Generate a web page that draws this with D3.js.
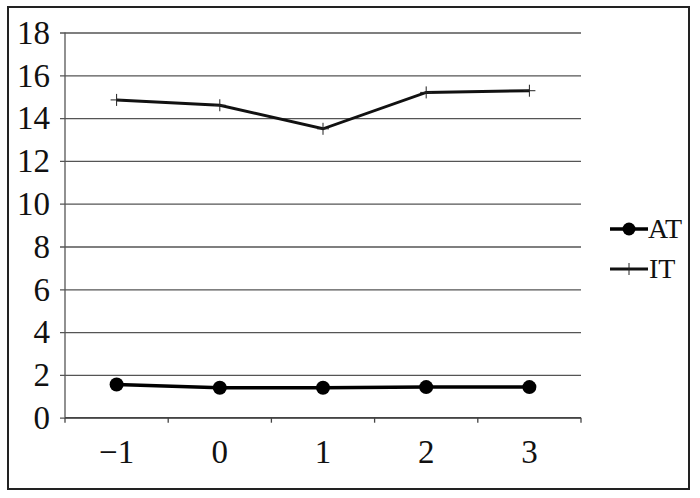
<!DOCTYPE html>
<html>
<head>
<meta charset="utf-8">
<script src="https://cdn.jsdelivr.net/npm/d3@7"></script>
<style>
  body { margin: 0; background: #fff; }
  svg text { font-family: "Liberation Serif", "Times New Roman", Times, serif; fill: #111; }
</style>
</head>
<body>
<script>
(function(){
'use strict';

var categories = ['\u22121', '0', '1', '2', '3'];
var atValues = [1.55, 1.4, 1.4, 1.43, 1.43];
var itValues = [14.85, 14.6, 13.5, 15.2, 15.28];
var yTicks = [0, 2, 4, 6, 8, 10, 12, 14, 16, 18];

var width = 700, height = 498;
var plot = {left: 65, right: 581, top: 32.5, bottom: 417.7};

var svg = d3.select('body').append('svg')
  .attr('width', width)
  .attr('height', height);

// outer frame
svg.append('rect')
  .attr('x', 8).attr('y', 7)
  .attr('width', 681).attr('height', 482)
  .attr('fill', 'none')
  .attr('stroke', '#222')
  .attr('stroke-width', 2);

var x = d3.scaleBand().domain(categories).range([plot.left, plot.right]);
var y = d3.scaleLinear().domain([0, 18]).range([plot.bottom, plot.top]);

// gridlines + y ticks
var yAxis = d3.axisLeft(y).tickValues(yTicks).tickSize(-(plot.right - plot.left)).tickPadding(15);
var gy = svg.append('g').attr('transform', 'translate(' + plot.left + ',0)').call(yAxis);
gy.attr('font-family', null);
gy.select('.domain').remove();
gy.selectAll('.tick line')
  .attr('x1', -5)
  .attr('stroke', '#555')
  .attr('stroke-width', 1.3);
gy.selectAll('.tick text')
  .attr('font-size', 33)
  .attr('fill', '#111')
  .attr('dy', '0.33em');

// y axis line
svg.append('line')
  .attr('x1', plot.left).attr('x2', plot.left)
  .attr('y1', plot.top).attr('y2', plot.bottom)
  .attr('stroke', '#555').attr('stroke-width', 1.3);

// x axis with ticks at category boundaries
var gx = svg.append('g').attr('transform', 'translate(0,' + plot.bottom + ')');
gx.append('line')
  .attr('x1', plot.left).attr('x2', plot.right)
  .attr('stroke', '#444').attr('stroke-width', 1.5);
var bounds = categories.map(function(c){ return x(c); }).concat([x.range()[1]]);
gx.selectAll('line.tk').data(bounds).enter().append('line')
  .attr('class', 'tk')
  .attr('x1', function(d){ return d; }).attr('x2', function(d){ return d; })
  .attr('y1', 0).attr('y2', 5)
  .attr('stroke', '#444').attr('stroke-width', 1.3);
gx.selectAll('text').data(categories).enter().append('text')
  .attr('x', function(d){ return x(d) + x.bandwidth() / 2; })
  .attr('y', 45)
  .attr('text-anchor', 'middle')
  .attr('font-size', 33)
  .text(function(d){ return d; });

function cx(d, i){ return x(categories[i]) + x.bandwidth() / 2; }

var line = d3.line().x(cx).y(function(d){ return y(d); });

// IT series
svg.append('path').datum(itValues)
  .attr('d', line)
  .attr('fill', 'none')
  .attr('stroke', '#111')
  .attr('stroke-width', 3);
svg.selectAll('g.itm').data(itValues).enter().append('g')
  .attr('class', 'itm')
  .each(function(d, i){
    var g = d3.select(this), px = cx(d, i), py = y(d);
    g.append('line').attr('x1', px).attr('x2', px).attr('y1', py - 6).attr('y2', py + 6)
      .attr('stroke', '#222').attr('stroke-width', 1);
    g.append('line').attr('x1', px - 6).attr('x2', px + 6).attr('y1', py).attr('y2', py)
      .attr('stroke', '#222').attr('stroke-width', 1);
  });

// AT series
svg.append('path').datum(atValues)
  .attr('d', line)
  .attr('fill', 'none')
  .attr('stroke', '#000')
  .attr('stroke-width', 3.5);
svg.selectAll('circle.at').data(atValues).enter().append('circle')
  .attr('class', 'at')
  .attr('cx', cx)
  .attr('cy', function(d){ return y(d); })
  .attr('r', 7)
  .attr('fill', '#000');

// legend
var legend = svg.append('g');
legend.append('line').attr('x1', 610).attr('x2', 648).attr('y1', 229).attr('y2', 229)
  .attr('stroke', '#000').attr('stroke-width', 3.5);
legend.append('circle').attr('cx', 629).attr('cy', 229).attr('r', 6.5).attr('fill', '#000');
legend.append('text').attr('x', 648).attr('y', 238).attr('font-size', 28).text('AT');

legend.append('line').attr('x1', 610).attr('x2', 648).attr('y1', 269).attr('y2', 269)
  .attr('stroke', '#111').attr('stroke-width', 3);
legend.append('line').attr('x1', 629).attr('x2', 629).attr('y1', 263).attr('y2', 275)
  .attr('stroke', '#222').attr('stroke-width', 1);
legend.append('text').attr('x', 649).attr('y', 278).attr('font-size', 28).text('IT');

})();
</script>
</body>
</html>
